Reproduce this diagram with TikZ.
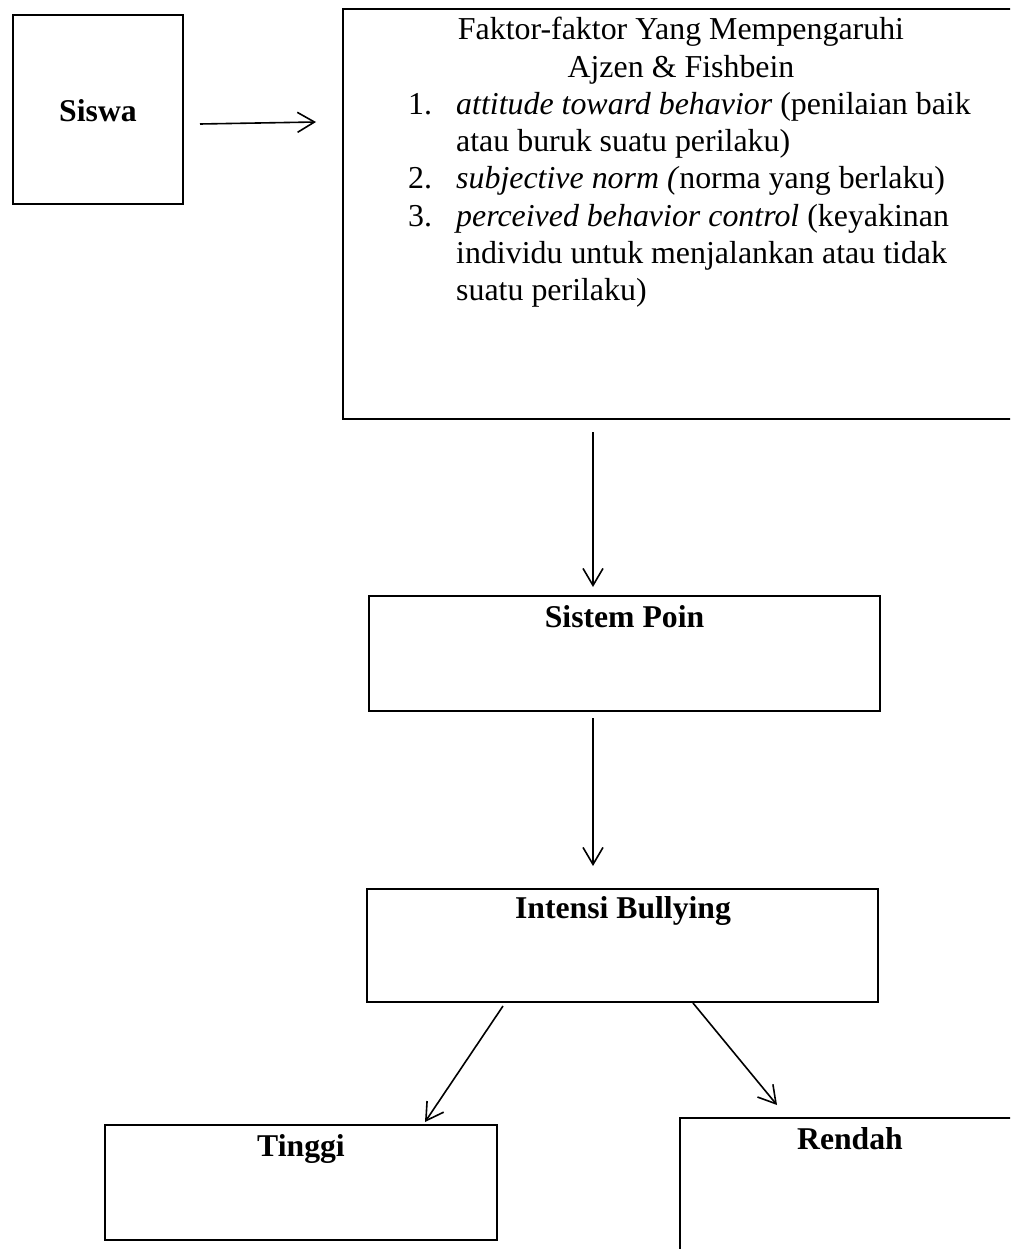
\documentclass[tikz,border=0pt]{standalone}
\usepackage{fontspec}
\setmainfont{Liberation Serif}
\usetikzlibrary{arrows.meta}
\begin{document}
\begin{tikzpicture}[x=1pt,y=-1pt,
  box/.style={draw, line width=2.6pt, rectangle, inner sep=0pt, outer sep=0pt},
  lbl/.style={font=\fontsize{31.7pt}{37.2pt}\selectfont\bfseries, inner sep=0pt, anchor=base},
  txt/.style={font=\fontsize{31.9pt}{37.2pt}\selectfont, inner sep=0pt, anchor=base west},
  ttl/.style={font=\fontsize{31.9pt}{37.2pt}\selectfont, inner sep=0pt, anchor=base},
  conn/.style={line width=1.6pt, -{Straight Barb[length=17pt,width=20pt]}}]
\useasboundingbox (0,0) rectangle (1010,1249);
\fill[white] (0,0) rectangle (1010,1249);
\clip (0,0) rectangle (1010,1249);

% boxes
\node[box, minimum width=170pt, minimum height=189pt] (siswa) at (98,109.5) {};
\node[box, minimum width=677pt, minimum height=410pt] (fac) at (681.5,214) {};
\node[box, minimum width=511pt, minimum height=115pt] (poin) at (624.5,653.5) {};
\node[box, minimum width=511pt, minimum height=113pt] (intensi) at (622.5,945.5) {};
\node[box, minimum width=392pt, minimum height=115pt] (tinggi) at (301,1182.5) {};
\node[box, minimum width=340pt, minimum height=152pt] (rendah) at (850,1194) {};

% labels
\node[lbl] (lsiswa) at (98,122) {Siswa};
\node[lbl] (lpoin) at (624.5,627) {Sistem Poin};
\node[lbl] (lintensi) at (623,918) {Intensi Bullying};
\node[lbl] (ltinggi) at (301,1156) {Tinggi};
\node[lbl] (lrendah) at (850,1149) {Rendah};

% factor text
\node[ttl] (t1) at (681,40) {Faktor-faktor Yang Mempengaruhi};
\node[ttl] (t2) at (681,77.2) {Ajzen \& Fishbein};
\node[txt] (n1) at (408,114.4) {1.};
\node[txt] (i1a) at (456,114.4) {\textit{attitude toward behavior} (penilaian baik};
\node[txt] (i1b) at (456,151.6) {atau buruk suatu perilaku)};
\node[txt] (n2) at (408,188.8) {2.};
\node[txt] (i2a) at (456,188.8) {\textit{subjective norm (}norma yang berlaku)};
\node[txt] (n3) at (408,226) {3.};
\node[txt] (i3a) at (456,226) {\textit{perceived behavior control} (keyakinan};
\node[txt] (i3b) at (456,263.2) {individu untuk menjalankan atau tidak};
\node[txt] (i3c) at (456,300.4) {suatu perilaku)};

% connector end points
\coordinate (a1s) at (200,124);
\coordinate (a1e) at (316,122);
\coordinate (a2s) at (593,432);
\coordinate (a2e) at (593,587);
\coordinate (a3s) at (593,718);
\coordinate (a3e) at (593,866);
\coordinate (a4s) at (503,1006);
\coordinate (a4e) at (425,1122);
\coordinate (a5s) at (693,1003);
\coordinate (a5e) at (777,1105);

\draw[conn] (a1s) -- (a1e);
\draw[conn] (a2s) -- (a2e);
\draw[conn] (a3s) -- (a3e);
\draw[conn] (a4s) -- (a4e);
\draw[conn] (a5s) -- (a5e);
\end{tikzpicture}
\end{document}
